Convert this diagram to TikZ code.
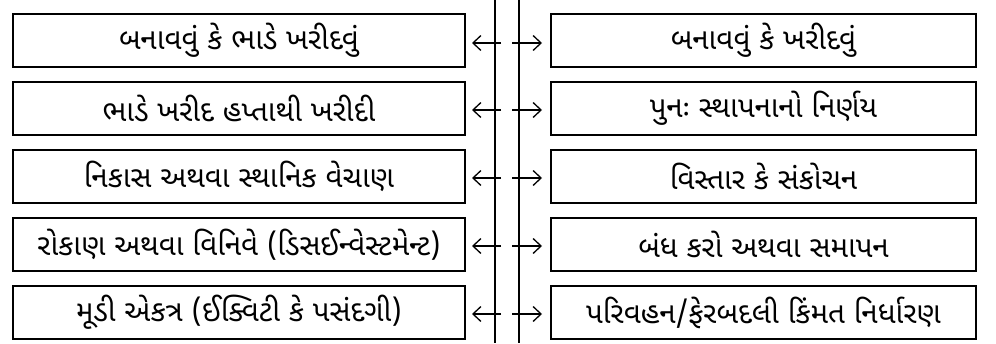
\documentclass[tikz,border=0pt]{standalone}
\usepackage{fontspec}
\newfontfamily\gujfont[Script=Gujarati]{Noto Sans Gujarati UI}
\usetikzlibrary{arrows.meta}
\begin{document}
\begin{tikzpicture}[x=1pt,y=-1pt,
  box/.style={draw,line width=2.4pt,minimum height=53pt,inner sep=0pt,font=\gujfont\fontsize{29.5}{33}\selectfont},
  lbox/.style={box,minimum width=452pt},
  rbox/.style={box,minimum width=425pt},
  vline/.style={line width=1.8pt},
  arr/.style={line width=1.3pt,-{Straight Barb[length=8pt,width=15pt,line width=1.3pt]}}]
\useasboundingbox (0,0) rectangle (996,343);
\coordinate (t1) at (495,0); \coordinate (b1) at (495,343);
\coordinate (t2) at (519,0); \coordinate (b2) at (519,343);
\draw[vline] (t1) -- (b1);
\draw[vline] (t2) -- (b2);
\node[lbox] (l1) at (239,40.5) {બનાવવું કે ભાડે ખરીદવું};
\node[lbox] (l2) at (239,108.5) {ભાડે ખરીદ હપ્તાથી ખરીદી};
\node[lbox] (l3) at (239,176.5) {નિકાસ અથવા સ્થાનિક વેચાણ};
\node[lbox] (l4) at (239,244.5) {રોકાણ અથવા વિનિવે (ડિસઈન્વેસ્ટમેન્ટ)};
\node[lbox] (l5) at (239,312.5) {મૂડી એકત્ર (ઈક્વિટી કે પસંદગી)};
\node[rbox] (r1) at (763.5,40.5) {બનાવવું કે ખરીદવું};
\node[rbox] (r2) at (763.5,108.5) {પુનઃ સ્થાપનાનો નિર્ણય};
\node[rbox] (r3) at (763.5,176.5) {વિસ્તાર કે સંકોચન};
\node[rbox] (r4) at (763.5,244.5) {બંધ કરો અથવા સમાપન};
\node[rbox] (r5) at (763.5,312.5) {પરિવહન/ફેરબદલી કિંમત નિર્ધારણ};
\foreach \i/\y in {1/43,2/110,3/178,4/246,5/314}{
  \coordinate (la\i) at (501,\y);
  \coordinate (ra\i) at (512,\y);
  \coordinate (lt\i) at (472,\y);
  \coordinate (rt\i) at (542,\y);
  \draw[arr] (la\i) -- (lt\i);
  \draw[arr] (ra\i) -- (rt\i);
}
\end{tikzpicture}
\end{document}
